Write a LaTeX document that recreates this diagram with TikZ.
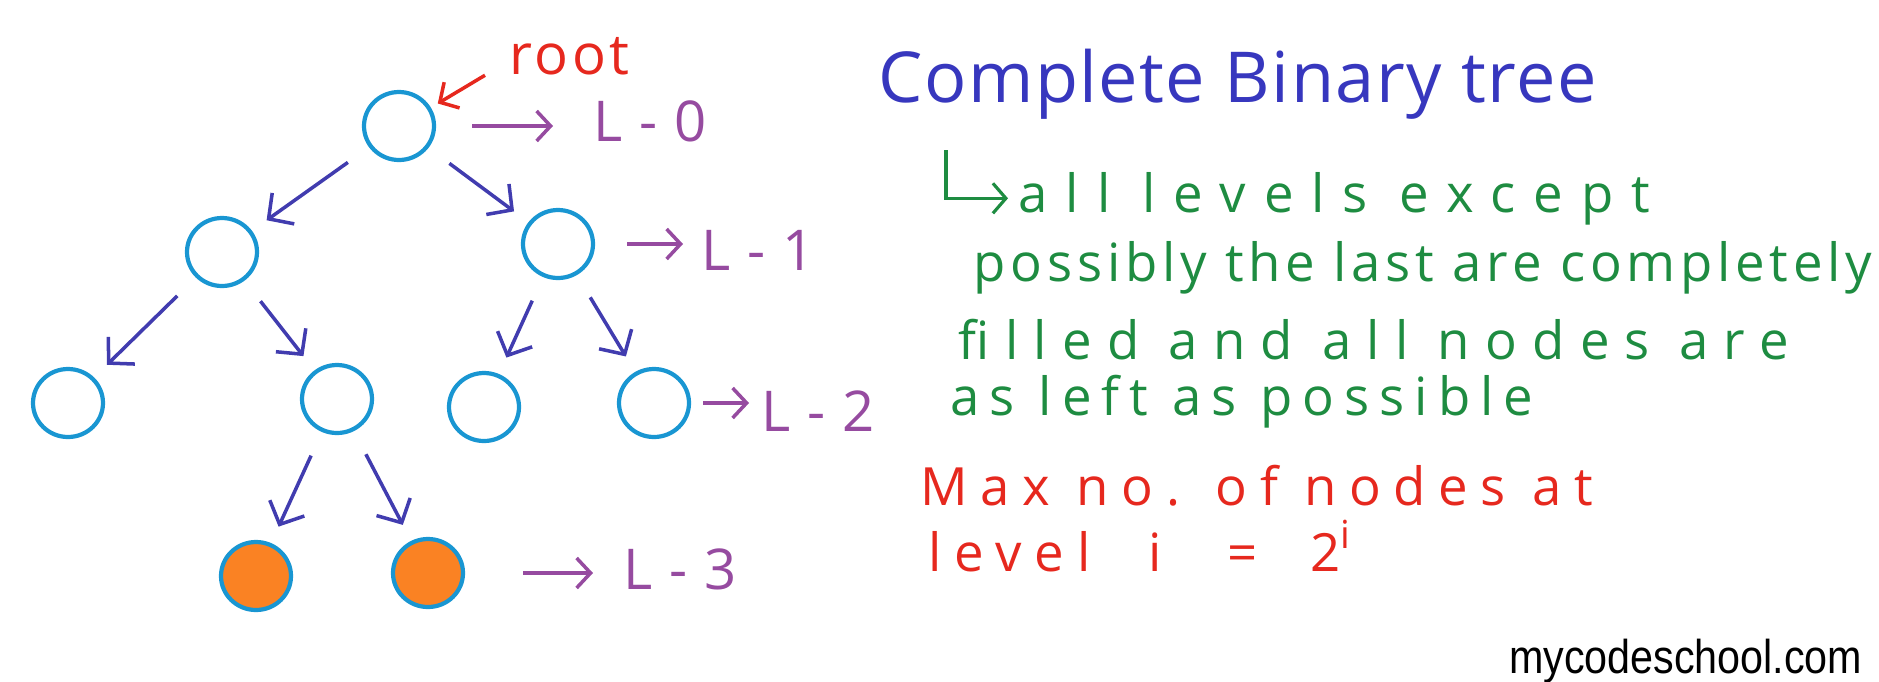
\documentclass[tikz,border=0pt]{standalone}
\usepackage{fontspec}
\setmainfont{Open Sans}
\newfontfamily\hand[LetterSpace=6]{Open Sans}
\newfontfamily\titlefont[LetterSpace=2]{Open Sans}
\newfontfamily\logofont[FakeStretch=0.87]{Liberation Sans}
\usepackage{xcolor}
\usepackage{tikz}
\usetikzlibrary{arrows.meta, shapes.geometric}
\definecolor{nodeblue}{RGB}{25,150,210}
\definecolor{leaforange}{RGB}{250,130,35}
\definecolor{edgeblue}{RGB}{65,60,175}
\definecolor{levelpurple}{RGB}{150,75,160}
\definecolor{penred}{RGB}{230,40,30}
\definecolor{pengreen}{RGB}{30,140,65}
\definecolor{titleblue}{RGB}{55,55,190}
\tikzset{
  tnode/.style  = {ellipse, draw=nodeblue, line width=1.2pt, minimum width=0.70cm,
                   minimum height=0.68cm, inner sep=0pt},
  leaf/.style   = {tnode, fill=leaforange},
  carrow/.style = {draw=edgeblue, line width=1pt, -{Straight Barb[length=1.8mm,width=3.8mm]},
                   shorten <=2.6mm, shorten >=1.8mm},
  larrow/.style = {draw=levelpurple, line width=1pt, -{Straight Barb[length=1.4mm,width=3mm]}},
  rarrow/.style = {draw=penred, line width=1pt, -{Straight Barb[length=1.4mm,width=3mm]}},
  garrow/.style = {draw=pengreen, line width=0.9pt, -{Straight Barb[length=1.3mm,width=3mm]}},
  lvl/.style    = {text=levelpurple, font=\hand\addfontfeature{LetterSpace=30}\fontsize{16}{16}\selectfont,
                   anchor=base west, inner sep=0pt},
  note/.style   = {text=pengreen, anchor=base west, inner sep=0pt},
  rnote/.style  = {text=penred, anchor=base west, inner sep=0pt,
                   font=\hand\addfontfeature{LetterSpace=24}\fontsize{15}{15}\selectfont},
}
\begin{document}
\begin{tikzpicture}
    \useasboundingbox (0,0) rectangle (18.79,-6.81);

    %% Tree nodes
    \node[tnode] (root) at (3.99,-1.26) {};
    \node[tnode] (l1a)  at (2.22,-2.52) {};
    \node[tnode] (l1b)  at (5.58,-2.44) {};
    \node[tnode] (l2a)  at (0.68,-4.03) {};
    \node[tnode] (l2b)  at (3.37,-3.99) {};
    \node[tnode] (l2c)  at (4.84,-4.07) {};
    \node[tnode] (l2d)  at (6.54,-4.03) {};
    \node[leaf]  (l3a)  at (2.56,-5.76) {};
    \node[leaf]  (l3b)  at (4.28,-5.73) {};

    \draw[carrow] (root) -- (l1a);
    \draw[carrow] (root) -- (l1b);
    \draw[carrow] (l1a) -- (l2a);
    \draw[carrow] (l1a) -- (l2b);
    \draw[carrow] (l1b) -- (l2c);
    \draw[carrow] (l1b) -- (l2d);
    \draw[carrow] (l2b) -- (l3a);
    \draw[carrow] (l2b) -- (l3b);

    %% Root label
    \node[text=penred, font=\hand\fontsize{16}{16}\selectfont, anchor=base west, inner sep=0pt]
         (rootlbl) at (5.09,-0.74) {root};
    \draw[rarrow, shorten >=0.8mm] ([xshift=-2.4mm]rootlbl.south west) -- (root.30);

    %% Levels
    \node[lvl] (lv0) at (5.93,-1.41) {L-0};
    \node[lvl] (lv1) at (7.01,-2.70) {L-1};
    \node[lvl] (lv2) at (7.61,-4.31) {L-2};
    \node[lvl] (lv3) at (6.23,-5.89) {L-3};

    \draw[larrow, shorten <=3.6mm, shorten >=4mm] (root.east) -- (root.east -| lv0.west);
    \draw[larrow, shorten <=3.2mm, shorten >=1.8mm] (l1b.east) -- (l1b.east -| lv1.west);
    \draw[larrow, shorten <=1.2mm, shorten >=1.2mm] (l2d.east) -- (l2d.east -| lv2.west);
    \draw[larrow, shorten <=5.8mm, shorten >=3mm] (l3b.east) -- (l3b.east -| lv3.west);

    %% Notes
    \node[text=titleblue, font=\titlefont\fontsize{20}{20}\selectfont, anchor=base west, inner sep=0pt]
         (title) at (8.78,-1.02) {Complete Binary tree};
    \node[note, font=\hand\addfontfeature{LetterSpace=34}\fontsize{15}{15}\selectfont]
         (ln1) at (10.18,-2.12) {all levels except};
    \coordinate (hook) at (9.46,-1.50);
    \draw[garrow, shorten >=1mm] (hook) |- (ln1.west);
    \node[note, font=\hand\addfontfeature{LetterSpace=9}\fontsize{15}{15}\selectfont]
         (ln2) at (9.73,-2.81) {possibly the last are completely};
    \node[note, font=\hand\addfontfeature{LetterSpace=29}\fontsize{15}{15}\selectfont]
         (ln3) at (9.58,-3.59) {filled and all nodes are};
    \node[note, font=\hand\addfontfeature{LetterSpace=19}\fontsize{15}{15}\selectfont]
         (ln4) at (9.50,-4.15) {as left as possible};
    \node[rnote] (max1) at (9.20,-5.05) {Max no. of nodes at};
    \node[rnote] (max2) at (9.28,-5.71)
         {level\hspace{0.6em} i\hspace{0.74em} =\hspace{0.5em} 2\raisebox{0.8ex}{\fontsize{11}{11}\selectfont i}};

    \node[font=\logofont\fontsize{13.5}{13.5}\selectfont, anchor=base east, inner sep=0pt]
         (logo) at (18.63,-6.73) {mycodeschool.com};

\end{tikzpicture}
\end{document}
